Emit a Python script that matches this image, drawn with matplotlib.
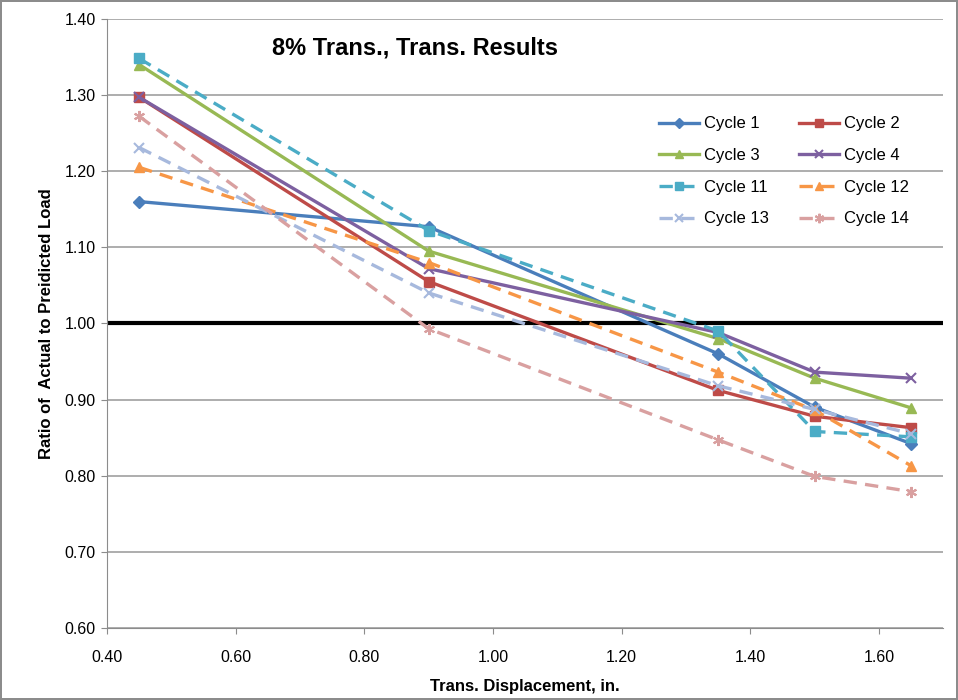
import matplotlib.pyplot as plt
import numpy as np

plt.rcParams['font.family'] = ['Liberation Sans', 'DejaVu Sans']

disp = [0.45, 0.90, 1.35, 1.50, 1.65]

cycle1 = [1.160, 1.127, 0.960, 0.890, 0.842]
cycle2 = [1.297, 1.055, 0.912, 0.878, 0.863]
cycle3 = [1.340, 1.095, 0.980, 0.928, 0.889]
cycle4 = [1.297, 1.072, 0.988, 0.936, 0.928]
cycle11 = [1.348, 1.122, 0.990, 0.858, 0.851]
cycle12 = [1.205, 1.080, 0.936, 0.886, 0.813]
cycle13 = [1.231, 1.040, 0.918, 0.887, 0.855]
cycle14 = [1.272, 0.993, 0.847, 0.799, 0.779]

series = [
    ('Cycle 1', cycle1, '#4A7EBB', 'D', '-', 6),
    ('Cycle 2', cycle2, '#BE4B48', 's', '-', 7),
    ('Cycle 3', cycle3, '#98B954', '^', '-', 7),
    ('Cycle 4', cycle4, '#7D60A0', 'x', '-', 7),
    ('Cycle 11', cycle11, '#4BACC6', 's', '--', 7),
    ('Cycle 12', cycle12, '#F79646', '^', '--', 7),
    ('Cycle 13', cycle13, '#A7B9DD', 'x', '--', 7),
    ('Cycle 14', cycle14, '#D9A0A0', (6, 2, 0), '--', 8),
]

fig = plt.figure(figsize=(9.58, 7), dpi=100)
fig.patch.set_edgecolor('#8c8c8c')
fig.patch.set_linewidth(1.5)
ax = fig.add_axes([0.1117, 0.103, 0.873, 0.870])

ax.set_xlim(0.40, 1.70)
ax.set_ylim(0.60, 1.40)
ax.set_xticks(np.arange(0.40, 1.61, 0.20))
ax.set_yticks(np.arange(0.60, 1.41, 0.10))
ax.set_xticklabels(['%.2f' % v for v in np.arange(0.40, 1.61, 0.20)], fontsize=11.5)
ax.set_yticklabels(['%.2f' % v for v in np.arange(0.60, 1.41, 0.10)], fontsize=11.5)
ax.grid(axis='y', color='#a0a0a0', linewidth=1.2)
ax.set_axisbelow(True)
ax.tick_params(direction='out', length=4, color='#8c8c8c')
ax.tick_params(axis='x', pad=12)
ax.tick_params(axis='y', pad=4)
for s in ['top', 'right']:
    ax.spines[s].set_visible(False)
for s in ['left', 'bottom']:
    ax.spines[s].set_color('#8c8c8c')

ax.axhline(1.0, color='black', linewidth=3, zorder=1)

handles = []
for name, vals, col, mk, ls, ms in series:
    line, = ax.plot(disp, vals, color=col, marker=mk, linestyle=ls, linewidth=2.4,
                    markersize=ms, markeredgewidth=1.5 if mk in ('x', (6, 2, 0)) else 1,
                    label=name, zorder=3)
    if ls == '--':
        line.set_dashes((4, 2.5))
    handles.append(line)

# row-wise order like the original legend
order = [0, 2, 4, 6, 1, 3, 5, 7]
ax.legend([handles[i] for i in order], [series[i][0] for i in order],
          loc='upper left', bbox_to_anchor=(0.660, 0.840), ncol=2, frameon=False,
          fontsize=12, columnspacing=1.8, handlelength=2.4, labelspacing=1.0,
          handletextpad=0.3, borderpad=0, borderaxespad=0, markerscale=0.85)

ax.text(0.368, 0.952, '8% Trans., Trans. Results', transform=ax.transAxes,
        ha='center', va='center', fontsize=17, fontweight='bold')

ax.set_xlabel('Trans. Displacement, in.', fontsize=12, fontweight='bold', labelpad=10)
ax.set_ylabel('Ratio of  Actual to Preidicted Load', fontsize=12, fontweight='bold', labelpad=8)

fig.savefig('out.png', dpi=100, edgecolor=fig.get_edgecolor())
